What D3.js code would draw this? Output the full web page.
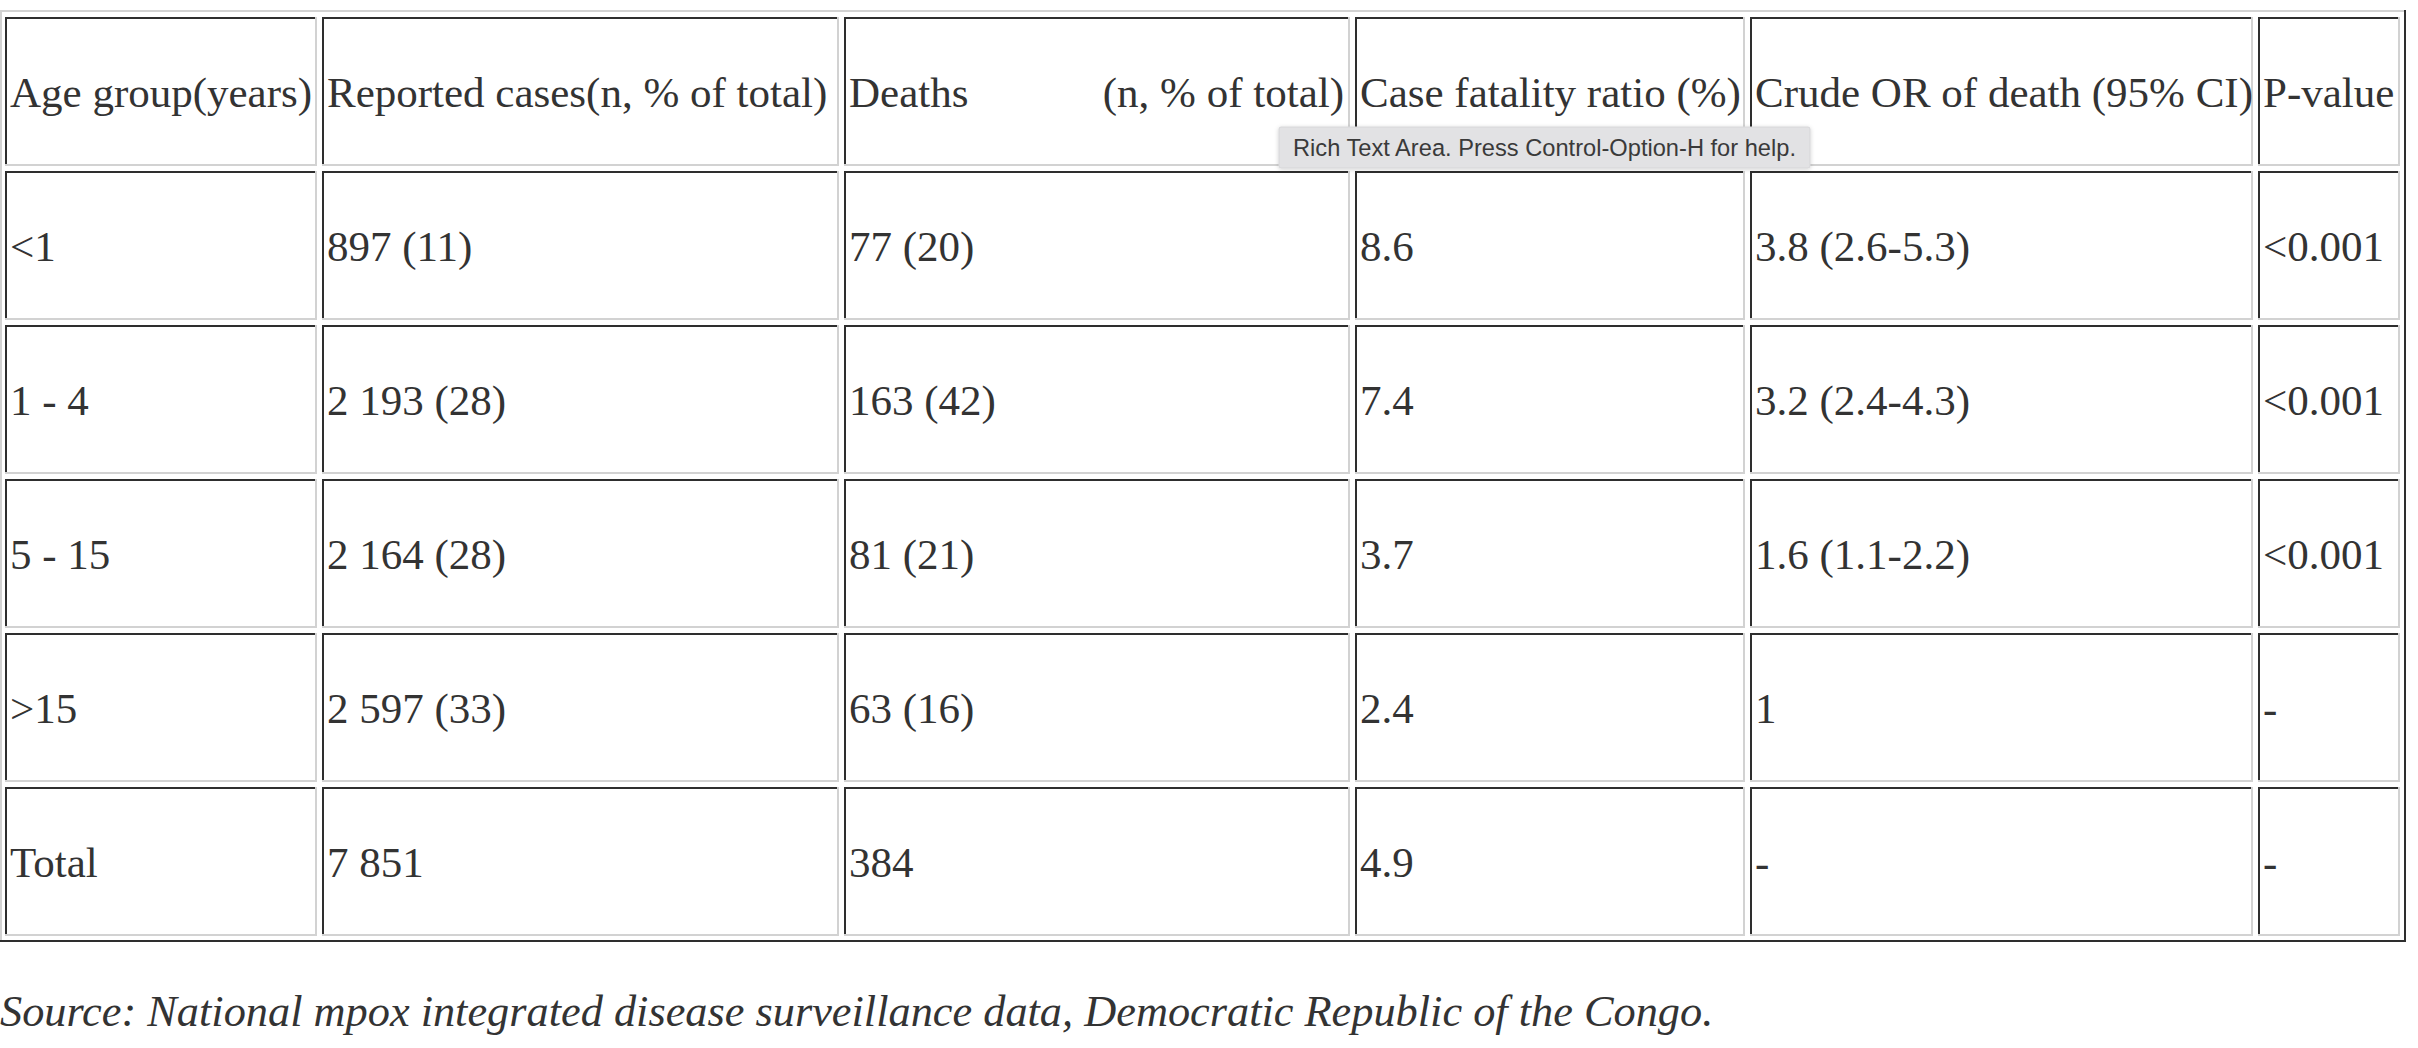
<!DOCTYPE html>
<html>
<head>
<meta charset="utf-8">
<script src="https://cdn.jsdelivr.net/npm/d3@7"></script>
<style>
  html, body { margin: 0; padding: 0; background: #fff; }
  svg { display: block; }
</style>
</head>
<body>
<svg id="chart" width="2418" height="1048"></svg>
<script>
// ---------------- data ----------------
const columns = ["Age group(years)", "Reported cases(n, % of total)", "Deaths (n, % of total)",
                 "Case fatality ratio (%)", "Crude OR of death (95% CI)", "P-value"];
const ageGroups = ["<1", "1 - 4", "5 - 15", ">15", "Total"];
const reportedCases = ["897 (11)", "2 193 (28)", "2 164 (28)", "2 597 (33)", "7 851"];
const deaths = ["77 (20)", "163 (42)", "81 (21)", "63 (16)", "384"];
const caseFatality = ["8.6", "7.4", "3.7", "2.4", "4.9"];
const crudeOR = ["3.8 (2.6-5.3)", "3.2 (2.4-4.3)", "1.6 (1.1-2.2)", "1", "-"];
const pValues = ["<0.001", "<0.001", "<0.001", "-", "-"];
const sourceNote = "Source: National mpox integrated disease surveillance data, Democratic Republic of the Congo.";
const tooltipText = "Rich Text Area. Press Control-Option-H for help.";

// ---------------- layout ----------------
const W = 2418, H = 1048;
const colLeft  = [5, 322, 844, 1355, 1750, 2258];
const colRight = [317, 839, 1350, 1745, 2253, 2400];
const tableBox = {x0: 0, y0: 10, x1: 2406, y1: 942};
const dark = "#2e2e2e", light = "#d2d2d2", textCol = "#333";
const fontSize = 43;

const svg = d3.select("#chart");
svg.append("rect").attr("width", W).attr("height", H).attr("fill", "#fff");

const rowKeys = ["header", ...ageGroups];
const y = d3.scaleBand().domain(rowKeys).range([17, 936]).paddingInner(5 / 154).paddingOuter(0);
const xL = d3.scaleOrdinal().domain(columns).range(colLeft);
const xR = d3.scaleOrdinal().domain(columns).range(colRight);

// table outer border (outset)
svg.append("path")
  .attr("d", `M${tableBox.x0 + 1},${tableBox.y1} V${tableBox.y0 + 1} H${tableBox.x1}`)
  .attr("fill", "none").attr("stroke", light).attr("stroke-width", 2);
svg.append("path")
  .attr("d", `M${tableBox.x1 - 1},${tableBox.y0} V${tableBox.y1 - 1} H${tableBox.x0}`)
  .attr("fill", "none").attr("stroke", dark).attr("stroke-width", 2);

// build cell records
const bodyCols = [ageGroups, reportedCases, deaths, caseFatality, crudeOR, pValues];
const cells = [];
columns.forEach((c, ci) => {
  cells.push({row: "header", col: c, text: c, ci});
  ageGroups.forEach((g, ri) => cells.push({row: g, col: c, text: bodyCols[ci][ri], ci}));
});

const cellG = svg.append("g").selectAll("g").data(cells).join("g");

// inset borders
cellG.append("path")
  .attr("d", d => {
    const L = xL(d.col), R = xR(d.col), T = y(d.row), B = T + y.bandwidth();
    return `M${L + 1},${B} V${T + 1} H${R}`;
  })
  .attr("fill", "none").attr("stroke", dark).attr("stroke-width", 2);
cellG.append("path")
  .attr("d", d => {
    const L = xL(d.col), R = xR(d.col), T = y(d.row), B = T + y.bandwidth();
    return `M${R - 1},${T} V${B - 1} H${L}`;
  })
  .attr("fill", "none").attr("stroke", light).attr("stroke-width", 2);

// text
const textBase = d => y(d.row) + y.bandwidth() / 2 + 15;
cellG.filter(d => !(d.row === "header" && d.ci === 2))
  .append("text")
  .attr("x", d => xL(d.col) + 5)
  .attr("y", textBase)
  .attr("font-family", "'Liberation Serif', 'DejaVu Serif', serif")
  .attr("font-size", fontSize)
  .attr("fill", textCol)
  .text(d => d.text);

// Deaths header: justified (word at left, rest at right)
const dh = cellG.filter(d => d.row === "header" && d.ci === 2);
dh.append("text")
  .attr("x", d => xL(d.col) + 5)
  .attr("y", textBase)
  .attr("font-family", "'Liberation Serif', serif").attr("font-size", fontSize).attr("fill", textCol)
  .text(d => d.text.split(" ")[0]);
dh.append("text")
  .attr("x", d => xR(d.col) - 6)
  .attr("y", textBase)
  .attr("text-anchor", "end")
  .attr("font-family", "'Liberation Serif', serif").attr("font-size", fontSize).attr("fill", textCol)
  .text(d => d.text.split(" ").slice(1).join(" "));

// source note
const src = svg.append("text")
  .attr("x", 0).attr("y", 1026)
  .attr("font-family", "'Liberation Serif', serif")
  .attr("font-style", "italic")
  .attr("font-size", 40)
  .attr("fill", textCol)
  .text(sourceNote);
const sw = src.node().getComputedTextLength();
src.attr("font-size", 40 * 1714 / sw);

// tooltip overlay
const defs = svg.append("defs");
const f = defs.append("filter").attr("id", "sh").attr("x", "-10%").attr("y", "-50%").attr("width", "120%").attr("height", "200%");
f.append("feDropShadow").attr("dx", 0).attr("dy", 1).attr("stdDeviation", 2).attr("flood-color", "#000").attr("flood-opacity", 0.18);
svg.append("rect")
  .attr("x", 1279).attr("y", 127).attr("width", 531).attr("height", 41).attr("rx", 2)
  .attr("fill", "#e2e2e4").attr("stroke", "#d6d6d8").attr("stroke-width", 1)
  .attr("filter", "url(#sh)");
svg.append("text")
  .attr("x", 1293).attr("y", 156)
  .attr("font-family", "'Liberation Sans', Roboto, sans-serif")
  .attr("font-size", 24.5)
  .attr("fill", "#3a3a3a")
  .attr("textLength", 503).attr("lengthAdjust", "spacingAndGlyphs")
  .text(tooltipText);
</script>
</body>
</html>
